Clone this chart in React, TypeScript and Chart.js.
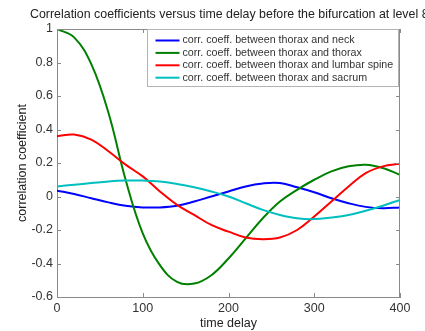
import React, { useEffect, useRef } from 'react';
import { Chart, registerables } from 'chart.js';

Chart.register(...registerables);

const titleText = 'Correlation coefficients versus time delay before the bifurcation at level 8';
const xTitle = 'time delay';
const yTitle = 'correlation coefficient';

const delays = [0, 20, 40, 60, 80, 100, 120, 140, 160, 180, 200, 220, 240, 260, 280, 300, 320, 340, 360, 380, 400];
const neck = [0.035, 0.015, -0.01, -0.035, -0.055, -0.065, -0.065, -0.055, -0.03, 0.0, 0.03, 0.06, 0.078, 0.08, 0.055, 0.025, -0.01, -0.04, -0.062, -0.07, -0.065];
const thorax = [1.0, 0.95, 0.79, 0.5, 0.1, -0.22, -0.41, -0.51, -0.52, -0.47, -0.37, -0.25, -0.13, -0.03, 0.04, 0.1, 0.15, 0.18, 0.19, 0.17, 0.13];
const lumbar = [0.36, 0.37, 0.34, 0.27, 0.19, 0.12, 0.03, -0.05, -0.11, -0.17, -0.21, -0.245, -0.255, -0.245, -0.2, -0.12, -0.03, 0.06, 0.14, 0.18, 0.195];
const sacrum = [0.06, 0.07, 0.08, 0.09, 0.095, 0.095, 0.09, 0.075, 0.055, 0.03, 0.0, -0.04, -0.08, -0.11, -0.13, -0.135, -0.125, -0.11, -0.085, -0.055, -0.02];

const seriesLabels = [
  'corr. coeff. between thorax and neck',
  'corr. coeff. between thorax and thorax',
  'corr. coeff. between thorax and lumbar spine',
  'corr. coeff. between thorax and sacrum',
];
const seriesValues = [neck, thorax, lumbar, sacrum];
const seriesColors = ['#0000ff', '#008000', '#ff0000', '#00bfbf'];

const xTicks = [0, 100, 200, 300, 400];
const yTicks = [-0.6, -0.4, -0.2, 0, 0.2, 0.4, 0.6, 0.8, 1];

const FONT = '"Liberation Sans", Arial, Helvetica, sans-serif';

const decorPlugin = {
  id: 'decor',
  afterDraw(chart: any) {
    const { ctx, chartArea: a } = chart;
    const xs = chart.scales.x;
    const ys = chart.scales.y;
    ctx.save();
    // frame
    ctx.strokeStyle = '#8a8a8a';
    ctx.lineWidth = 1;
    ctx.beginPath();
    ctx.moveTo(a.left, a.top + 0.5);
    ctx.lineTo(a.right - 0.5, a.top + 0.5);
    ctx.lineTo(a.right - 0.5, a.bottom);
    ctx.stroke();
    // inward ticks
    ctx.beginPath();
    xTicks.forEach((v) => {
      const p = Math.round(xs.getPixelForValue(v)) + 0.5;
      ctx.moveTo(p, a.bottom);
      ctx.lineTo(p, a.bottom - 4);
      ctx.moveTo(p, a.top);
      ctx.lineTo(p, a.top + 4);
    });
    yTicks.forEach((v) => {
      const p = Math.round(ys.getPixelForValue(v)) + 0.5;
      ctx.moveTo(a.left, p);
      ctx.lineTo(a.left + 4, p);
      ctx.moveTo(a.right, p);
      ctx.lineTo(a.right - 4, p);
    });
    ctx.stroke();

    // title
    ctx.font = `12.4px ${FONT}`;
    ctx.fillStyle = '#222';
    ctx.textAlign = 'left';
    ctx.textBaseline = 'middle';
    ctx.fillText(titleText, 30, 15);

    // legend
    const bw = 251;
    const bh = 57;
    const bx = Math.round(a.right - bw - 2) + 0.5;
    const by = Math.round(a.top) + 0.5;
    ctx.fillStyle = '#ffffff';
    ctx.fillRect(bx, by, bw, bh);
    ctx.strokeStyle = '#b4b4b4';
    ctx.lineWidth = 1;
    ctx.strokeRect(bx, by, bw, bh);
    ctx.font = `10.7px ${FONT}`;
    seriesLabels.forEach((lbl, i) => {
      const ly = by + 11 + i * 12.4;
      ctx.strokeStyle = seriesColors[i];
      ctx.lineWidth = 2;
      ctx.beginPath();
      ctx.moveTo(bx + 8, ly);
      ctx.lineTo(bx + 32, ly);
      ctx.stroke();
      ctx.fillStyle = '#333';
      ctx.fillText(lbl, bx + 35, ly);
    });
    ctx.restore();
  },
};

export default function App() {
  const ref = useRef<HTMLCanvasElement>(null);
  useEffect(() => {
    if (!ref.current) return;
    const chart = new Chart(ref.current, {
      type: 'line',
      data: {
        datasets: seriesValues.map((vals, i) => ({
          label: seriesLabels[i],
          data: delays.map((d, j) => ({ x: d, y: vals[j] })),
          borderColor: seriesColors[i],
          backgroundColor: seriesColors[i],
          borderWidth: 2,
          pointRadius: 0,
          tension: 0.4,
          fill: false,
          order: 4 - i,
        })),
      },
      options: {
        animation: false,
        responsive: false,
        layout: { padding: { top: 29, right: 25, bottom: 0, left: 0 } },
        plugins: {
          legend: { display: false },
          title: { display: false },
          tooltip: { enabled: false },
        },
        scales: {
          x: {
            type: 'linear',
            min: 0,
            max: 400,
            afterFit: (s: any) => {
              s.height = 34;
            },
            afterBuildTicks: (s: any) => {
              s.ticks = xTicks.map((v) => ({ value: v }));
            },
            ticks: {
              color: '#333',
              font: { family: FONT, size: 12.5 },
              padding: 4,
              maxRotation: 0,
            },
            grid: { display: false, drawTicks: false },
            border: { display: true, color: '#8a8a8a' },
            title: {
              display: true,
              text: xTitle,
              color: '#222',
              font: { family: FONT, size: 12.5 },
              padding: { top: 0, bottom: 0 },
            },
          },
          y: {
            type: 'linear',
            min: -0.6,
            max: 1,
            afterFit: (s: any) => {
              s.width = 57;
            },
            afterBuildTicks: (s: any) => {
              s.ticks = yTicks.map((v) => ({ value: v }));
            },
            ticks: {
              color: '#333',
              font: { family: FONT, size: 12.5 },
              padding: 4,
              callback: (v: any) => String(Number(Number(v).toFixed(1))),
            },
            grid: { display: false, drawTicks: false },
            border: { display: true, color: '#8a8a8a' },
            title: {
              display: true,
              text: yTitle,
              color: '#222',
              font: { family: FONT, size: 12.5 },
              padding: { top: 15, bottom: 0 },
            },
          },
        },
      },
      plugins: [decorPlugin],
    });
    return () => chart.destroy();
  }, []);
  return (
    <div style={{ position: 'absolute', left: 0, top: 0, width: 425, height: 331, background: '#fff' }}>
      <canvas ref={ref} width={425} height={331} />
    </div>
  );
}
